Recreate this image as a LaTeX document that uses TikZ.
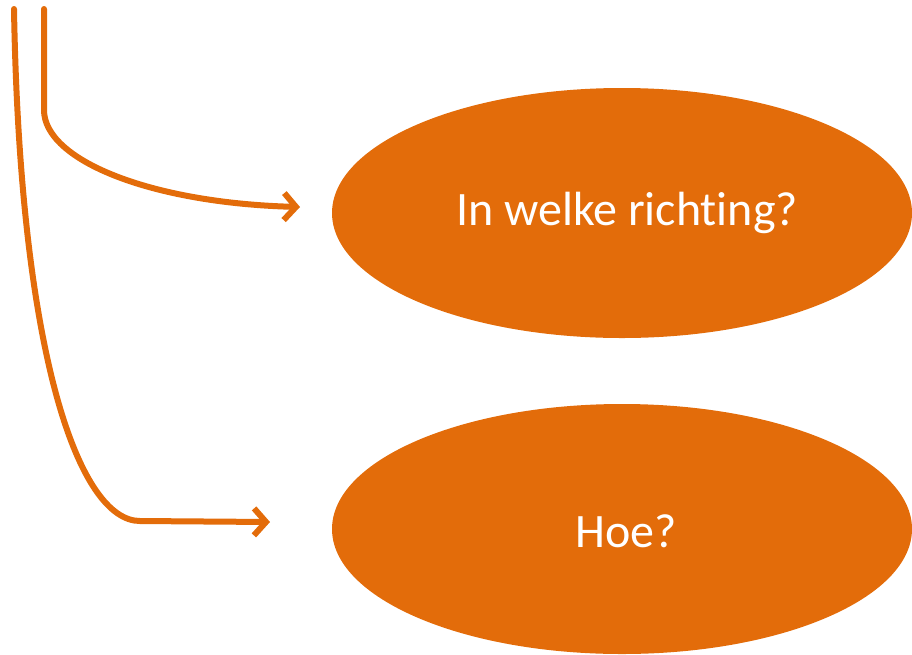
\documentclass[tikz,border=0pt]{standalone}
\usepackage{fontspec}
\setmainfont{Carlito}[RawFeature=-liga]
\usetikzlibrary{arrows.meta,shapes.geometric}
\definecolor{accent}{HTML}{E36C0A}
\tikzset{
  bubble/.style={ellipse, fill=accent, draw=none, minimum width=580pt, minimum height=250pt, inner sep=0pt},
  label/.style={text=white, font=\fontsize{48}{56}\selectfont, inner sep=0pt},
  flow/.style={draw=accent, line width=6pt, line cap=round, line join=round, -{Straight Barb[length=12pt,width=27pt,line width=6pt]}}
}
\begin{document}
\begin{tikzpicture}[x=1pt,y=-1pt]
\useasboundingbox (0,0) rectangle (912,654);
\node[bubble] (e1) at (622,213) {};
\node[bubble] (e2) at (622,529) {};
\node[label] (l1) at (627,213) {In welke richting?};
\node[label] (l2) at (626,531) {Hoe?};
\coordinate (s1) at (14,9);
\coordinate (s2) at (44,9);
\coordinate (t1) at (270,522);
\coordinate (t2) at (300,207);
\draw[flow] (s2) -- (44,110) .. controls (44,160) and (150,203) .. (t2);
\draw[flow] (s1) .. controls (20,360) and (80,521) .. (140,521) -- (t1);
\end{tikzpicture}
\end{document}
